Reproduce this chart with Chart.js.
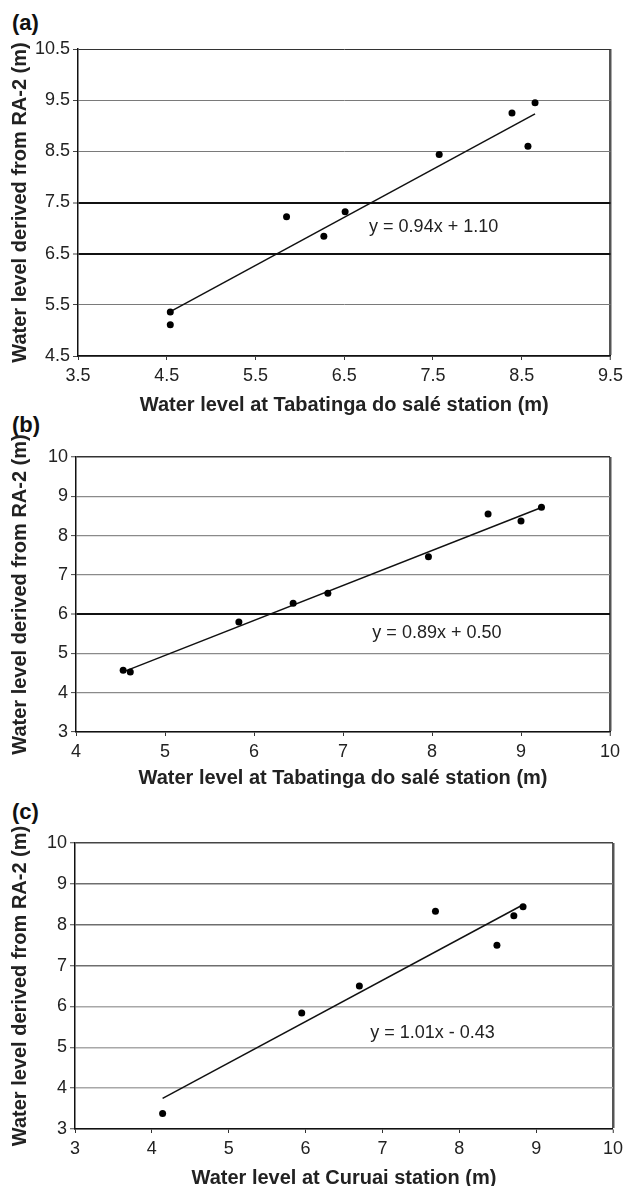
<!DOCTYPE html>
<html><head><meta charset="utf-8">
<script src="https://cdn.jsdelivr.net/npm/chart.js@4.4.1/dist/chart.umd.min.js"></script>
<style>
html,body{margin:0;padding:0;background:#fff;overflow:hidden;width:628px;height:1186px;}
.lbl{position:absolute;left:12px;font:bold 22px 'Liberation Sans',Arial,sans-serif;color:#111;line-height:22px;}
canvas{position:absolute;left:0;}
</style></head><body>
<div class="lbl" style="top:12px">(a)</div>
<div class="lbl" style="top:414px">(b)</div>
<div class="lbl" style="top:801px">(c)</div>
<canvas id="ca" width="628" height="417" style="top:0px"></canvas>
<canvas id="cb" width="628" height="373" style="top:417px"></canvas>
<canvas id="cc" width="628" height="400" style="top:790px"></canvas>
<script>
// ---- data ----
const aX = [4.54, 4.54, 5.85, 6.27, 6.51, 7.57, 8.39, 8.57, 8.65];
const aY = [5.36, 5.11, 7.22, 6.84, 7.32, 8.44, 9.25, 8.60, 9.45];
const aFit = [0.94, 1.10];
const aEq = "y = 0.94x + 1.10";
const aXTicks = [3.5, 4.5, 5.5, 6.5, 7.5, 8.5, 9.5];
const aYTicks = [4.5, 5.5, 6.5, 7.5, 8.5, 9.5, 10.5];

const bX = [4.53, 4.61, 5.83, 6.44, 6.83, 7.96, 8.63, 9.00, 9.23];
const bY = [4.57, 4.53, 5.80, 6.28, 6.53, 7.46, 8.55, 8.37, 8.72];
const bFit = [0.89, 0.50];
const bEq = "y = 0.89x + 0.50";
const bXTicks = [4, 5, 6, 7, 8, 9, 10];
const bYTicks = [3, 4, 5, 6, 7, 8, 9, 10];

const cX = [4.14, 5.95, 6.70, 7.69, 8.49, 8.71, 8.83];
const cY = [3.38, 5.84, 6.50, 8.33, 7.50, 8.22, 8.44];
const cFit = [1.01, -0.43];
const cEq = "y = 1.01x - 0.43";
const cXTicks = [3, 4, 5, 6, 7, 8, 9, 10];
const cYTicks = [3, 4, 5, 6, 7, 8, 9, 10];

const yTitle = "Water level derived from RA-2 (m)";
const xTitleAB = "Water level at Tabatinga do salé station (m)";
const xTitleC = "Water level at Curuai station (m)";

// ---- drawing ----
const FONT = "'Liberation Sans', Arial, sans-serif";

const eqPlugin = {
  id: 'eq',
  afterDatasetsDraw(chart) {
    const o = chart.options.plugins.eq;
    if (!o) return;
    const ctx = chart.ctx;
    ctx.save();
    ctx.font = '18px ' + FONT;
    ctx.fillStyle = '#222';
    ctx.textAlign = 'left';
    ctx.textBaseline = 'middle';
    ctx.fillText(o.text, chart.scales.x.getPixelForValue(o.x), chart.scales.y.getPixelForValue(o.y));
    ctx.restore();
  }
};

function makeChart(id, xs, ys, fit, eq, xt, yt, xTitle, cfg) {
  const pts = xs.map((x, i) => ({x: x, y: ys[i]}));
  const x0 = Math.min(...xs), x1 = Math.max(...xs);
  const line = [{x: x0, y: fit[0] * x0 + fit[1]}, {x: x1, y: fit[0] * x1 + fit[1]}];
  const xmin = xt[0], xmax = xt[xt.length - 1];
  const ymin = yt[0], ymax = yt[yt.length - 1];
  return new Chart(document.getElementById(id), {
    type: 'scatter',
    data: {
      datasets: [
        {data: pts, backgroundColor: '#000', borderWidth: 0, pointRadius: 3.5, order: 1},
        {data: line, showLine: true, borderColor: '#111', borderWidth: 1.5, pointRadius: 0, fill: false, order: 2}
      ]
    },
    plugins: [eqPlugin],
    options: {
      responsive: false,
      animation: false,
      devicePixelRatio: 1,
      events: [],
      layout: {padding: {top: cfg.padTop, right: cfg.padRight, left: 0, bottom: 0}},
      plugins: {
        legend: {display: false},
        tooltip: {enabled: false},
        eq: {text: eq, x: cfg.eqX, y: cfg.eqY}
      },
      scales: {
        x: {
          type: 'linear', min: xmin, max: xmax,
          afterBuildTicks: s => { s.ticks = xt.map(v => ({value: v})); },
          afterFit: s => { s.height = cfg.xH; },
          ticks: {
            font: {size: 18, family: FONT}, color: '#222', padding: 5, maxRotation: 0,
            callback: v => cfg.dec ? v.toFixed(1) : String(v)
          },
          grid: {
            drawOnChartArea: true, tickLength: 4, tickColor: '#333', tickWidth: 1,
            color: c => (c.tick && c.tick.value === xmax) ? '#555' : 'rgba(0,0,0,0)',
            lineWidth: c => (c.tick && c.tick.value === xmax) ? 2.5 : 1
          },
          border: {color: '#111', width: 1.5},
          title: {display: true, text: xTitle, color: '#222',
                  font: {size: 20, weight: 'bold', family: FONT}, padding: {top: 0, bottom: 0}}
        },
        y: {
          type: 'linear', min: ymin, max: ymax,
          afterBuildTicks: s => { s.ticks = yt.map(v => ({value: v})); },
          afterFit: s => { s.width = cfg.yW; },
          ticks: {
            font: {size: 18, family: FONT}, color: '#222', padding: 3,
            callback: v => cfg.dec ? v.toFixed(1) : String(v)
          },
          grid: {
            tickLength: 5, tickColor: '#444', tickWidth: 1,
            color: c => cfg.gridColor(c.tick ? c.tick.value : null, ymax),
            lineWidth: c => cfg.gridWidth(c.tick ? c.tick.value : null, ymax)
          },
          border: {color: '#111', width: 1.5},
          title: {display: true, text: yTitle, color: '#222',
                  font: {size: 20, weight: 'bold', family: FONT}, padding: {top: 8, bottom: 0}}
        }
      }
    }
  });
}

makeChart('ca', aX, aY, aFit, aEq, aXTicks, aYTicks, xTitleAB, {
  padTop: 49, padRight: 13, yW: 78, xH: 61, dec: true, eqX: 6.78, eqY: 7.03,
  gridColor: (v, mx) => v === mx ? '#333' : (v === 7.5 || v === 6.5) ? '#111' : '#7a7a7a',
  gridWidth: (v, mx) => (v === 7.5 || v === 6.5) ? 2 : 1
});
makeChart('cb', bX, bY, bFit, bEq, bXTicks, bYTicks, xTitleAB, {
  padTop: 40, padRight: 18, yW: 76, xH: 58, dec: false, eqX: 7.33, eqY: 5.53,
  gridColor: (v, mx) => v === mx ? '#333' : v === 6 ? '#111' : '#8a8a8a',
  gridWidth: (v, mx) => v === 6 ? 2 : (v === mx ? 1.5 : 1.2)
});
makeChart('cc', cX, cY, cFit, cEq, cXTicks, cYTicks, xTitleC, {
  padTop: 53, padRight: 12, yW: 75, xH: 61, dec: false, eqX: 6.84, eqY: 5.36,
  gridColor: (v, mx) => v === mx ? '#444' : (v >= 7) ? '#6e6e6e' : '#a8a8a8',
  gridWidth: (v, mx) => 1.5
});
</script>
</body></html>
